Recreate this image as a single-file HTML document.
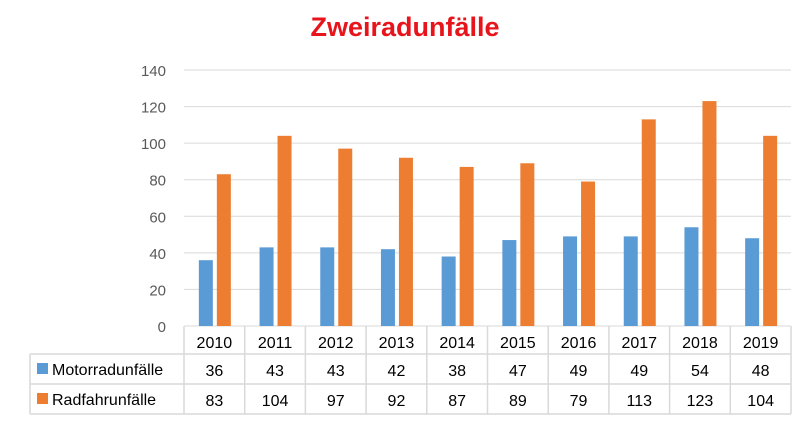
<!DOCTYPE html>
<html><head><meta charset="utf-8"><style>
body{margin:0;background:#fff;width:810px;height:423px;overflow:hidden;font-family:"Liberation Sans",Arial,sans-serif}
</style></head><body>
<svg width="810" height="423" id="c" font-family="Liberation Sans, Arial, sans-serif">
<text x="405" y="36" text-anchor="middle" font-size="27" font-weight="bold" fill="#e8141c">Zweiradunfälle</text>
</svg>
<script>
const categories=["2010","2011","2012","2013","2014","2015","2016","2017","2018","2019"];
const motorrad=[36,43,43,42,38,47,49,49,54,48];
const radfahr=[83,104,97,92,87,89,79,113,123,104];
const ticks=[0,20,40,60,80,100,120,140];
const svg=document.getElementById('c');
const NS="http://www.w3.org/2000/svg";
const x0=184,cw=60.7,y0=326,ppu=256/140;
const y=v=>y0-v*ppu;
function mk(t,a,txt){const e=document.createElementNS(NS,t);for(const k in a)e.setAttribute(k,a[k]);if(txt!==undefined)e.textContent=txt;svg.appendChild(e);return e;}
ticks.forEach(t=>{
 const l=mk('line',{x1:x0,x2:x0+cw*categories.length,y1:y(t),y2:y(t),stroke:'#d9d9d9','stroke-width':1});
 
 
 const tx=mk('text',{x:166,y:y(t)+6,'text-anchor':'end','font-size':15,fill:'#595959'},String(t));
 
 
});
categories.forEach((c,i)=>{
 const cx=x0+cw*i+cw/2;
 const b1=mk('rect',{x:cx-15.5,y:y(motorrad[i]),width:14,height:motorrad[i]*ppu,fill:'#5b9bd5'});
 
 
 const b2=mk('rect',{x:cx+2.5,y:y(radfahr[i]),width:14,height:radfahr[i]*ppu,fill:'#ed7d31'});
 
 
 const t1=mk('text',{x:cx,y:348,'text-anchor':'middle','font-size':16,fill:'#000'},c);
 
 
 const t2=mk('text',{x:cx,y:376,'text-anchor':'middle','font-size':16,fill:'#000'},String(motorrad[i]));
 
 
 const t3=mk('text',{x:cx,y:406,'text-anchor':'middle','font-size':16,fill:'#000'},String(radfahr[i]));
 
 
});
const xr=x0+cw*categories.length;
const g='#d9d9d9';
[[x0,326,x0,414],[30,354,xr,354],[30,384,xr,384],[30,414,xr,414],[30,354,30,414]].forEach(a=>{
 const l=mk('line',{x1:a[0],y1:a[1],x2:a[2],y2:a[3],stroke:g,'stroke-width':1.5});
 
 
});
for(let i=1;i<=categories.length;i++){
 const l=mk('line',{x1:x0+cw*i,y1:326,x2:x0+cw*i,y2:414,stroke:g,'stroke-width':1.5});
 
 
}
const m1=mk('rect',{x:37,y:363,width:11,height:11,fill:'#5b9bd5'});


const l1=mk('text',{x:52,y:375,'font-size':16,fill:'#000'},'Motorradunfälle');


const m2=mk('rect',{x:37,y:393,width:11,height:11,fill:'#ed7d31'});


const l2=mk('text',{x:52,y:405,'font-size':16,fill:'#000'},'Radfahrunfälle');


</script>
</body></html>
